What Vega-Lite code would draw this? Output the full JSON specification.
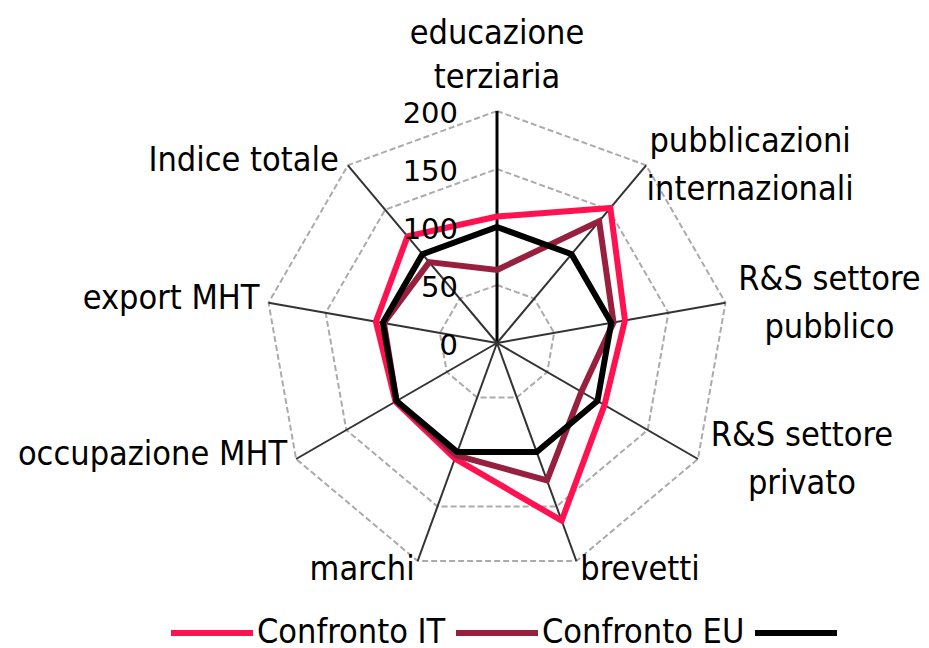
{
  "$schema": "https://vega.github.io/schema/vega-lite/v6.json",
  "width": 929,
  "height": 648,
  "autosize": "none",
  "padding": 0,
  "background": "white",
  "config": {"view": {"stroke": null}, "font": "DejaVu Sans Condensed"},
  "datasets": {
    "series": [
      {"serie": "Confronto IT", "i": 0, "asse": "educazione terziaria", "value": 109},
      {"serie": "Confronto IT", "i": 1, "asse": "pubblicazioni internazionali", "value": 152},
      {"serie": "Confronto IT", "i": 2, "asse": "R&S settore pubblico", "value": 112},
      {"serie": "Confronto IT", "i": 3, "asse": "R&S settore privato", "value": 107},
      {"serie": "Confronto IT", "i": 4, "asse": "brevetti", "value": 163},
      {"serie": "Confronto IT", "i": 5, "asse": "marchi", "value": 106},
      {"serie": "Confronto IT", "i": 6, "asse": "occupazione MHT", "value": 101},
      {"serie": "Confronto IT", "i": 7, "asse": "export MHT", "value": 106},
      {"serie": "Confronto IT", "i": 8, "asse": "Indice totale", "value": 120},
      {"serie": "Confronto EU", "i": 0, "asse": "educazione terziaria", "value": 63},
      {"serie": "Confronto EU", "i": 1, "asse": "pubblicazioni internazionali", "value": 137},
      {"serie": "Confronto EU", "i": 2, "asse": "R&S settore pubblico", "value": 102},
      {"serie": "Confronto EU", "i": 3, "asse": "R&S settore privato", "value": 84},
      {"serie": "Confronto EU", "i": 4, "asse": "brevetti", "value": 126},
      {"serie": "Confronto EU", "i": 5, "asse": "marchi", "value": 103},
      {"serie": "Confronto EU", "i": 6, "asse": "occupazione MHT", "value": 100},
      {"serie": "Confronto EU", "i": 7, "asse": "export MHT", "value": 99},
      {"serie": "Confronto EU", "i": 8, "asse": "Indice totale", "value": 91},
      {"serie": "Media EU", "i": 0, "asse": "educazione terziaria", "value": 100},
      {"serie": "Media EU", "i": 1, "asse": "pubblicazioni internazionali", "value": 100},
      {"serie": "Media EU", "i": 2, "asse": "R&S settore pubblico", "value": 100},
      {"serie": "Media EU", "i": 3, "asse": "R&S settore privato", "value": 100},
      {"serie": "Media EU", "i": 4, "asse": "brevetti", "value": 100},
      {"serie": "Media EU", "i": 5, "asse": "marchi", "value": 100},
      {"serie": "Media EU", "i": 6, "asse": "occupazione MHT", "value": 100},
      {"serie": "Media EU", "i": 7, "asse": "export MHT", "value": 100},
      {"serie": "Media EU", "i": 8, "asse": "Indice totale", "value": 100}
    ],
    "axes": [
      {"i": 0, "label": "educazione\nterziaria"},
      {"i": 1, "label": "pubblicazioni\ninternazionali"},
      {"i": 2, "label": "R&S settore\npubblico"},
      {"i": 3, "label": "R&S settore\nprivato"},
      {"i": 4, "label": "brevetti"},
      {"i": 5, "label": "marchi"},
      {"i": 6, "label": "occupazione MHT"},
      {"i": 7, "label": "export MHT"},
      {"i": 8, "label": "Indice totale"}
    ],
    "grid": [
      {"level": 50, "i": 0}, {"level": 50, "i": 1}, {"level": 50, "i": 2}, {"level": 50, "i": 3}, {"level": 50, "i": 4}, {"level": 50, "i": 5}, {"level": 50, "i": 6}, {"level": 50, "i": 7}, {"level": 50, "i": 8},
      {"level": 100, "i": 0}, {"level": 100, "i": 1}, {"level": 100, "i": 2}, {"level": 100, "i": 3}, {"level": 100, "i": 4}, {"level": 100, "i": 5}, {"level": 100, "i": 6}, {"level": 100, "i": 7}, {"level": 100, "i": 8},
      {"level": 150, "i": 0}, {"level": 150, "i": 1}, {"level": 150, "i": 2}, {"level": 150, "i": 3}, {"level": 150, "i": 4}, {"level": 150, "i": 5}, {"level": 150, "i": 6}, {"level": 150, "i": 7}, {"level": 150, "i": 8},
      {"level": 200, "i": 0}, {"level": 200, "i": 1}, {"level": 200, "i": 2}, {"level": 200, "i": 3}, {"level": 200, "i": 4}, {"level": 200, "i": 5}, {"level": 200, "i": 6}, {"level": 200, "i": 7}, {"level": 200, "i": 8}
    ],
    "ticks": [{"tick": 0}, {"tick": 50}, {"tick": 100}, {"tick": 150}, {"tick": 200}]
  },
  "encoding": {
    "x": {"field": "x", "type": "quantitative", "scale": {"domain": [-428.45, 372.41], "nice": false, "zero": false}, "axis": null},
    "y": {"field": "y", "type": "quantitative", "scale": {"domain": [-262.93, 295.69], "nice": false, "zero": false}, "axis": null}
  },
  "layer": [
    {
      "data": {"name": "grid"},
      "transform": [
        {"calculate": "datum.i * 2 * PI / 9", "as": "a"},
        {"calculate": "datum.level * sin(datum.a)", "as": "x"},
        {"calculate": "datum.level * cos(datum.a)", "as": "y"}
      ],
      "mark": {"type": "line", "interpolate": "linear-closed", "stroke": "#ababab", "strokeWidth": 2, "strokeDash": [6, 3]},
      "encoding": {"detail": {"field": "level", "type": "nominal"}, "order": {"field": "i", "type": "quantitative"}}
    },
    {
      "data": {"name": "axes"},
      "transform": [
        {"calculate": "datum.i * 2 * PI / 9", "as": "a"},
        {"calculate": "0", "as": "x"},
        {"calculate": "0", "as": "y"},
        {"calculate": "200 * sin(datum.a)", "as": "x2"},
        {"calculate": "200 * cos(datum.a)", "as": "y2"}
      ],
      "mark": {"type": "rule"},
      "encoding": {
        "x2": {"field": "x2"},
        "y2": {"field": "y2"},
        "color": {"condition": {"test": "datum.i === 0", "value": "#000000"}, "value": "#333333"},
        "strokeWidth": {"condition": {"test": "datum.i === 0", "value": 3}, "value": 2}
      }
    },
    {
      "data": {"name": "series"},
      "transform": [
        {"calculate": "datum.i * 2 * PI / 9", "as": "a"},
        {"calculate": "datum.value * sin(datum.a)", "as": "x"},
        {"calculate": "datum.value * cos(datum.a)", "as": "y"}
      ],
      "mark": {"type": "line", "interpolate": "linear-closed", "strokeWidth": 6},
      "encoding": {
        "color": {
          "field": "serie",
          "type": "nominal",
          "scale": {"domain": ["Confronto IT", "Confronto EU", "Media EU"], "range": ["#ff124f", "#98203f", "#000000"]},
          "legend": {
            "orient": "none",
            "legendX": 168,
            "legendY": 589,
            "direction": "horizontal",
            "title": null,
            "symbolType": "stroke",
            "symbolSize": 6724,
            "symbolStrokeWidth": 6,
            "labelFont": "DejaVu Sans Condensed",
            "labelFontSize": 34,
            "labelColor": "#000000",
            "labelOffset": 1,
            "labelLimit": 400,
            "columnPadding": -2,
            "padding": 0,
            "labelExpr": "datum.label === 'Media EU' ? '' : datum.label"
          }
        },
        "order": {"field": "i", "type": "quantitative"}
      }
    },
    {
      "data": {"name": "ticks"},
      "transform": [
        {"calculate": "0", "as": "x"},
        {"calculate": "datum.tick", "as": "y"}
      ],
      "mark": {"type": "text", "align": "right", "baseline": "middle", "dx": -39, "dy": 3, "font": "DejaVu Sans", "fontSize": 29, "color": "#000000"},
      "encoding": {"text": {"field": "tick", "type": "quantitative"}}
    },
    {
      "data": {"name": "axes"},
      "transform": [
        {"filter": "datum.i === 0"},
        {"calculate": "datum.i * 2 * PI / 9", "as": "a"},
        {"calculate": "200 * sin(datum.a)", "as": "x"},
        {"calculate": "200 * cos(datum.a)", "as": "y"}
      ],
      "mark": {"type": "text", "align": "center", "baseline": "bottom", "dy": -60, "fontSize": 34, "lineHeight": 44, "lineBreak": "\n", "color": "#000000"},
      "encoding": {"text": {"field": "label"}}
    },
    {
      "data": {"name": "axes"},
      "transform": [
        {"filter": "datum.i >= 1 && datum.i <= 3"},
        {"calculate": "datum.i * 2 * PI / 9", "as": "a"},
        {"calculate": "200 * sin(datum.a)", "as": "x"},
        {"calculate": "200 * cos(datum.a)", "as": "y"}
      ],
      "mark": {"type": "text", "align": "center", "baseline": "middle", "dx": 104, "dy": -23, "fontSize": 34, "lineHeight": 48, "lineBreak": "\n", "color": "#000000"},
      "encoding": {"text": {"field": "label"}}
    },
    {
      "data": {"name": "axes"},
      "transform": [
        {"filter": "datum.i === 4"},
        {"calculate": "datum.i * 2 * PI / 9", "as": "a"},
        {"calculate": "200 * sin(datum.a)", "as": "x"},
        {"calculate": "200 * cos(datum.a)", "as": "y"}
      ],
      "mark": {"type": "text", "align": "left", "baseline": "middle", "dx": 4, "dy": 9, "fontSize": 34, "color": "#000000"},
      "encoding": {"text": {"field": "label"}}
    },
    {
      "data": {"name": "axes"},
      "transform": [
        {"filter": "datum.i === 5"},
        {"calculate": "datum.i * 2 * PI / 9", "as": "a"},
        {"calculate": "200 * sin(datum.a)", "as": "x"},
        {"calculate": "200 * cos(datum.a)", "as": "y"}
      ],
      "mark": {"type": "text", "align": "right", "baseline": "middle", "dx": -3, "dy": 9, "fontSize": 34, "color": "#000000"},
      "encoding": {"text": {"field": "label"}}
    },
    {
      "data": {"name": "axes"},
      "transform": [
        {"filter": "datum.i >= 6"},
        {"calculate": "datum.i * 2 * PI / 9", "as": "a"},
        {"calculate": "200 * sin(datum.a)", "as": "x"},
        {"calculate": "200 * cos(datum.a)", "as": "y"}
      ],
      "mark": {"type": "text", "align": "right", "baseline": "middle", "dx": -9, "dy": -4, "fontSize": 34, "color": "#000000"},
      "encoding": {"text": {"field": "label"}}
    }
  ]
}
